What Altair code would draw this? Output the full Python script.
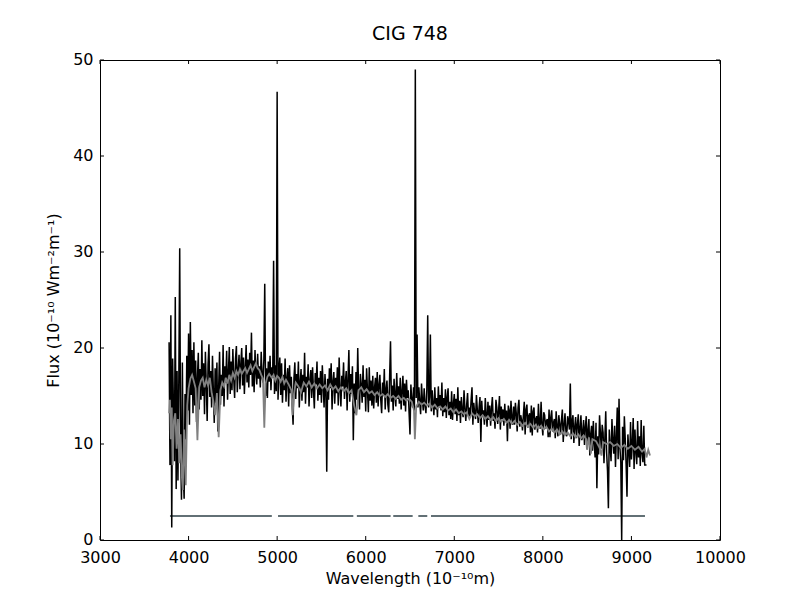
import altair as alt
import pandas as pd

# ---------------- data ----------------
# observed spectrum, 10 Angstrom samples; each row starts at the key wavelength
black_rows = {
    3780: [20.6, 7.8, 23.4, 1.3, 18.9, 13.5, 8.2, 25.3, 5.3, 17.6],
    3880: [6.2, 16.8, 30.4, 9.5, 4.2, 18.5, 7.0, 4.3, 15.2, 10.5],
    3980: [19.2, 13.5, 21.5, 12.0, 22.7, 15.1, 19.8, 13.2, 20.6, 14.0],
    4080: [18.7, 12.3, 16.9, 19.5, 13.6, 17.8, 14.6, 20.8, 15.0, 18.4],
    4180: [13.1, 19.6, 16.2, 12.4, 18.3, 20.4, 14.9, 17.6, 13.8, 19.2],
    4280: [15.5, 12.2, 17.9, 14.3, 18.5, 11.3, 16.0, 19.6, 14.1, 17.2],
    4380: [15.0, 20.3, 13.9, 18.1, 16.4, 19.7, 14.6, 17.5, 20.1, 15.2],
    4480: [18.6, 15.6, 19.9, 16.8, 14.8, 18.9, 20.2, 15.4, 17.7, 19.3],
    4580: [15.7, 18.4, 20.0, 16.1, 19.0, 15.2, 17.9, 20.3, 16.4, 18.8],
    4680: [15.9, 19.5, 17.2, 21.6, 16.0, 18.7, 15.4, 19.8, 17.5, 16.2],
    4780: [19.4, 16.8, 18.1, 15.9, 19.6, 17.0, 16.4, 18.8, 26.7, 15.0],
    4880: [17.9, 14.8, 18.6, 16.5, 19.2, 15.6, 18.0, 16.9, 29.1, 15.2],
    4980: [18.2, 15.5, 46.7, 14.6, 17.6, 19.0, 15.1, 18.4, 14.3, 17.2],
    5080: [15.6, 18.9, 14.4, 16.8, 17.9, 13.9, 18.2, 15.3, 17.0, 14.1],
    5180: [12.0, 16.9, 18.5, 14.7, 17.3, 15.8, 18.6, 13.8, 16.4, 17.8],
    5280: [14.5, 17.2, 15.4, 19.5, 14.2, 17.0, 15.9, 18.3, 13.9, 16.6],
    5380: [17.7, 14.8, 18.0, 15.6, 13.7, 17.4, 16.2, 18.6, 14.5, 16.9],
    5480: [15.1, 17.6, 14.3, 18.2, 16.0, 13.8, 17.3, 15.5, 7.1, 16.8],
    5580: [14.6, 17.9, 15.8, 18.4, 13.6, 16.5, 17.5, 14.2, 16.9, 15.3],
    5680: [18.0, 14.0, 19.0, 15.7, 13.9, 17.1, 16.0, 18.5, 14.7, 16.4],
    5780: [17.6, 13.5, 16.8, 19.8, 14.4, 17.3, 15.2, 18.1, 10.4, 16.3],
    5880: [13.2, 17.5, 14.6, 20.0, 15.4, 13.6, 17.3, 16.1, 14.3, 18.2],
    5980: [14.9, 16.7, 13.4, 17.9, 15.6, 13.3, 18.0, 14.5, 16.6, 14.0],
    6080: [17.1, 13.7, 15.9, 16.9, 14.3, 17.5, 13.9, 16.2, 17.2, 14.6],
    6180: [13.2, 16.4, 15.0, 17.8, 13.6, 15.7, 16.6, 14.1, 13.3, 17.0],
    6280: [20.7, 14.4, 16.1, 13.5, 16.8, 15.1, 13.9, 17.4, 14.7, 16.0],
    6380: [14.2, 16.9, 13.6, 15.5, 17.1, 14.0, 16.3, 13.4, 16.7, 14.8],
    6480: [15.6, 13.2, 11.0, 16.2, 14.5, 13.8, 15.9, 13.5, 49.0, 14.8],
    6580: [21.4, 13.8, 15.9, 14.4, 13.1, 16.3, 14.6, 13.5, 15.8, 14.0],
    6680: [13.2, 15.7, 23.4, 13.8, 14.9, 21.4, 13.4, 15.6, 14.2, 13.0],
    6780: [15.9, 13.6, 14.8, 12.8, 16.0, 13.9, 15.1, 13.5, 16.4, 12.9],
    6880: [14.8, 13.3, 15.7, 12.7, 14.9, 15.8, 13.0, 14.4, 12.6, 15.5],
    6980: [12.5, 14.2, 15.2, 13.1, 14.7, 12.4, 15.9, 13.0, 14.5, 12.2],
    7080: [14.9, 13.4, 12.8, 15.6, 13.7, 12.4, 14.1, 15.3, 12.9, 13.8],
    7180: [12.8, 14.6, 15.9, 12.0, 14.3, 13.2, 12.6, 15.1, 13.6, 12.2],
    7280: [13.8, 14.9, 10.2, 14.5, 12.8, 13.5, 12.0, 14.8, 13.1, 11.8],
    7380: [14.4, 12.5, 14.0, 11.9, 13.7, 14.9, 12.4, 13.2, 11.6, 14.6],
    7480: [13.8, 12.1, 13.4, 15.0, 11.5, 13.9, 12.6, 13.6, 11.9, 14.2],
    7580: [12.3, 13.5, 10.3, 14.0, 13.5, 11.6, 14.5, 12.8, 12.0, 13.9],
    7680: [12.0, 14.3, 13.2, 11.3, 13.8, 14.6, 11.8, 13.0, 12.5, 11.4],
    7780: [13.0, 14.4, 11.0, 13.6, 14.1, 11.7, 12.9, 13.2, 11.2, 14.0],
    7880: [10.9, 13.4, 13.8, 11.5, 12.6, 12.9, 11.2, 14.2, 12.1, 11.6],
    7980: [14.4, 12.0, 10.9, 13.3, 13.0, 11.6, 12.4, 12.6, 10.7, 13.6],
    8080: [10.7, 12.8, 13.5, 11.3, 12.2, 12.6, 10.6, 13.4, 11.9, 10.8],
    8180: [13.0, 12.1, 11.0, 12.5, 13.6, 10.2, 12.0, 13.2, 11.4, 10.8],
    8280: [12.9, 12.4, 11.5, 16.3, 10.5, 12.4, 13.0, 10.1, 11.8, 12.8],
    8380: [10.6, 12.0, 13.1, 9.8, 11.7, 13.0, 10.4, 11.2, 12.5, 9.9],
    8480: [11.8, 12.9, 9.6, 11.4, 12.6, 8.8, 11.0, 11.9, 9.3, 12.4],
    8580: [10.0, 8.6, 12.2, 5.4, 10.8, 8.9, 13.0, 11.1, 9.5, 12.0],
    8680: [11.2, 8.0, 10.6, 13.4, 9.1, 7.2, 3.3, 11.5, 9.8, 8.2],
    8780: [12.6, 10.4, 9.0, 11.9, 7.6, 10.8, 13.8, 8.4, 14.7, 9.6],
    8880: [8.1, 0.0, 11.8, 8.3, 12.9, 10.6, 7.9, 4.5, 11.0, 9.4],
    8980: [7.6, 12.3, 8.4, 10.0, 12.7, 7.4, 11.5, 9.2, 7.9, 12.4],
    9080: [8.6, 10.8, 7.7, 12.5, 9.0, 8.1, 11.9, 7.8, 7.8, 7.8],
}
BLACK_STEP = 10

# model (smoothed fit)
gray_wl = [
    3780, 3790, 3800, 3810, 3820, 3835, 3850, 3865, 3880, 3895, 3910, 3925,
    3935, 3950, 3968, 3985, 4000, 4020, 4040, 4060, 4080, 4100, 4120, 4140,
    4160, 4180, 4200, 4220, 4240, 4260, 4280, 4300, 4320, 4340, 4360, 4380,
    4400, 4420, 4440, 4460, 4480, 4500, 4520, 4540, 4560, 4580, 4600, 4620,
    4640, 4660, 4680, 4700, 4720, 4740, 4760, 4780, 4800, 4820, 4840, 4855,
    4870, 4890, 4910, 4940, 4960, 4980, 5000, 5020, 5040, 5060, 5080, 5100,
    5130, 5160, 5175, 5190, 5210, 5240, 5270, 5300, 5330, 5360, 5390, 5420,
    5450, 5480, 5510, 5540, 5570, 5600, 5630, 5660, 5690, 5720, 5750, 5780,
    5810, 5840, 5870, 5895, 5920, 5950, 5980, 6010, 6040, 6070, 6100, 6130,
    6160, 6190, 6220, 6250, 6280, 6310, 6340, 6370, 6400, 6430, 6460, 6490,
    6520, 6545, 6555, 6570, 6600, 6630, 6660, 6690, 6720, 6750, 6780, 6810,
    6840, 6870, 6900, 6930, 6960, 6990, 7020, 7050, 7080, 7110, 7140, 7170,
    7200, 7230, 7260, 7290, 7320, 7350, 7380, 7410, 7440, 7470, 7500, 7530,
    7560, 7590, 7620, 7650, 7680, 7710, 7740, 7770, 7800, 7830, 7860, 7890,
    7920, 7950, 7980, 8010, 8040, 8070, 8100, 8130, 8160, 8190, 8220, 8250,
    8280, 8310, 8340, 8370, 8400, 8430, 8460, 8490, 8498, 8520, 8542, 8560,
    8600, 8640, 8662, 8680, 8720, 8760, 8800, 8840, 8880, 8920, 8960, 9000,
    9040, 9080, 9120, 9150, 9170, 9190, 9210,
]
gray_flux = [
    13.2, 14.6, 10.5, 13.8, 7.8, 12.5, 13.2, 9.5, 12.6, 8.0, 11.0, 6.5,
    5.2, 11.5, 5.7, 14.0, 15.8, 16.8, 17.2, 16.5, 15.8, 10.4, 15.9, 16.6,
    16.9, 15.9, 16.7, 16.1, 16.9, 15.4, 14.4, 13.0, 15.3, 10.7, 15.6, 16.4,
    16.0, 16.9, 16.3, 17.2, 16.6, 17.4, 16.9, 17.6, 17.2, 17.8, 17.3, 17.6,
    17.9, 17.4, 17.8, 18.2, 17.6, 18.0, 18.4, 17.9, 17.7, 17.2, 16.8, 11.7,
    16.3, 17.0, 17.3, 16.9, 17.2, 16.6, 17.1, 16.9, 16.5, 17.0, 16.3, 16.7,
    16.2, 15.6, 13.0, 15.2, 16.4, 16.0, 15.4, 16.4, 16.0, 16.5, 15.9, 16.3,
    15.8, 16.2, 15.8, 16.1, 15.6, 16.2, 15.7, 16.0, 15.5, 15.9, 15.5, 15.8,
    15.3, 15.6, 14.0, 13.0, 15.6, 15.9, 15.4, 15.7, 15.3, 15.5, 15.1, 15.4,
    15.0, 15.2, 14.9, 15.2, 14.8, 15.0, 14.7, 15.0, 14.6, 14.8, 14.5, 14.7,
    14.4, 13.5, 10.5, 13.9, 14.4, 14.1, 14.3, 14.0, 14.2, 13.8, 14.1, 13.7,
    13.9, 13.6, 13.9, 13.5, 13.7, 13.3, 13.6, 13.2, 13.4, 13.1, 13.3, 12.6,
    13.2, 12.9, 13.1, 12.7, 13.0, 12.6, 12.9, 12.5, 12.8, 12.4, 12.7, 12.3,
    12.6, 12.2, 12.5, 12.1, 12.4, 12.0, 12.3, 11.9, 12.2, 11.8, 12.1, 11.7,
    12.0, 11.6, 11.9, 11.5, 11.8, 11.3, 11.6, 11.2, 11.5, 11.0, 11.3, 10.9,
    11.2, 10.8, 11.1, 10.7, 11.0, 10.6, 10.9, 10.5, 9.4, 10.7, 9.0, 10.5,
    10.3, 9.6, 8.8, 10.2, 10.0, 10.2, 9.8, 10.0, 9.6, 9.9, 9.5, 9.8,
    9.4, 9.7, 9.2, 9.5, 8.6, 9.4, 8.8,
]

mask_start = [3790, 5010, 5900, 6311, 6594, 6737]
mask_end = [4940, 5860, 6281, 6530, 6695, 9153]
mask_level = 2.5

x_ticks = [3000, 4000, 5000, 6000, 7000, 8000, 9000, 10000]
y_ticks = [0, 10, 20, 30, 40, 50]

# ---------------- tables ----------------
b_wl, b_fl = [], []
for start, vals in black_rows.items():
    for i, v in enumerate(vals):
        b_wl.append(start + BLACK_STEP * i)
        b_fl.append(v)
black_df = pd.DataFrame({"wl": b_wl, "flux": b_fl})
gray_df = pd.DataFrame({"wl": gray_wl, "flux": gray_flux})
mask_df = pd.DataFrame({"a": mask_start, "b": mask_end, "y": [mask_level] * len(mask_start)})
xt_df = pd.DataFrame({"t": x_ticks})
yt_df = pd.DataFrame({"t": y_ticks})

FONT = "DejaVu Sans"
xscale = alt.Scale(domain=[3000, 10000], nice=False, zero=False)
yscale = alt.Scale(domain=[0, 50], nice=False)

xaxis = alt.Axis(values=x_ticks, title="Wavelength (10⁻¹⁰m)", format="d",
                 ticks=False, tickSize=0, domain=False, grid=False,
                 labelPadding=9, titlePadding=5, labelFlush=False,
                 labelFont=FONT, labelFontSize=16, labelColor="black",
                 titleFont=FONT, titleFontSize=16, titleColor="black",
                 titleFontWeight="normal")
yaxis = alt.Axis(values=y_ticks, title="Flux (10⁻¹⁰ Wm⁻²m⁻¹)", format="d",
                 ticks=False, tickSize=0, domain=False, grid=False,
                 labelPadding=7, titlePadding=11, labelFlush=False,
                 labelOffset=-1,
                 labelFont=FONT, labelFontSize=16, labelColor="black",
                 titleFont=FONT, titleFontSize=16, titleColor="black",
                 titleFontWeight="normal")

mask = alt.Chart(mask_df).mark_rule(color="#627075", strokeWidth=2).encode(
    x=alt.X("a:Q", scale=xscale, axis=xaxis),
    x2="b:Q",
    y=alt.Y("y:Q", scale=yscale, axis=yaxis),
)

black = alt.Chart(black_df).mark_line(color="black", strokeWidth=1.5).encode(
    x=alt.X("wl:Q", scale=xscale),
    y=alt.Y("flux:Q", scale=yscale),
)

gray = alt.Chart(gray_df).mark_line(color="#808080", strokeWidth=1.8).encode(
    x=alt.X("wl:Q", scale=xscale),
    y=alt.Y("flux:Q", scale=yscale),
)

tick_style = dict(color="black", strokeWidth=1)
bt = alt.Chart(xt_df).mark_rule(**tick_style).encode(
    x=alt.X("t:Q", scale=xscale), y=alt.value(480), y2=alt.value(476))
tt = alt.Chart(xt_df).mark_rule(**tick_style).encode(
    x=alt.X("t:Q", scale=xscale), y=alt.value(0), y2=alt.value(4))
lt = alt.Chart(yt_df).mark_rule(**tick_style).encode(
    y=alt.Y("t:Q", scale=yscale), x=alt.value(0), x2=alt.value(4))
rt = alt.Chart(yt_df).mark_rule(**tick_style).encode(
    y=alt.Y("t:Q", scale=yscale), x=alt.value(620), x2=alt.value(616))

chart = alt.layer(mask, black, gray, bt, tt, lt, rt).properties(
    width=620,
    height=480,
    title=alt.TitleParams("CIG 748", font=FONT, fontSize=19, fontWeight="normal",
                          color="black", offset=7, anchor="middle"),
    autosize=alt.AutoSizeParams(type="none"),
    padding={"left": 92, "top": 52, "right": 72, "bottom": 52},
    background="white",
).configure_view(
    stroke="black", strokeWidth=1, fill="white"
)

chart.save("out.html", embed_options={"renderer": "svg", "actions": False})
